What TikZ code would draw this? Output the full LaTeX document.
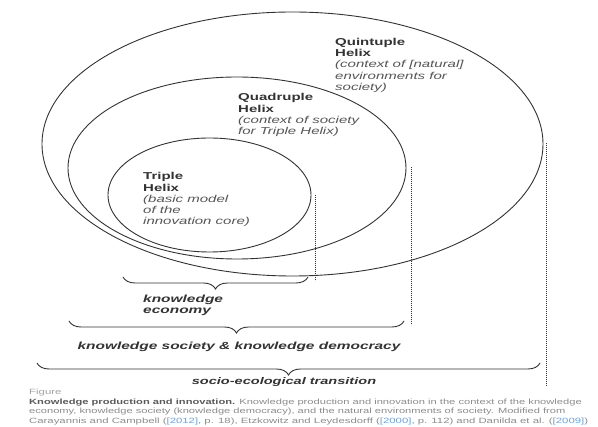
\documentclass[tikz,border=0pt]{standalone}
\usepackage{fontspec}
\usetikzlibrary{shapes.geometric,decorations.pathreplacing}
\newfontfamily\lab{Liberation Sans}[FakeStretch=1.5]
\definecolor{ink}{HTML}{333333}
\definecolor{descc}{HTML}{555555}
\definecolor{capc}{HTML}{8C8C8C}
\definecolor{capb}{HTML}{5A5A5A}
\definecolor{linkc}{HTML}{6FA3D8}
\begin{document}
\begin{tikzpicture}[x=1pt,y=-1pt,
  ring/.style={ellipse, draw=ink, line width=0.9pt, inner sep=0pt, outer sep=0pt},
  guide/.style={draw=ink, line width=0.9pt, dash pattern=on 0.9pt off 1.1pt},
  brc/.style={draw=ink, line width=0.9pt, decorate, decoration={brace, mirror, amplitude=12pt}},
  title/.style={anchor=base west, inner sep=0pt, font=\lab\fontsize{10}{12}\selectfont\bfseries, text=ink},
  desc/.style={anchor=base west, inner sep=0pt, font=\lab\fontsize{10}{12}\selectfont\itshape, text=descc},
  blab/.style={anchor=base, inner sep=0pt, font=\lab\fontsize{10.3}{12}\selectfont\bfseries\itshape, text=ink},
  caption/.style={anchor=base west, inner sep=0pt, font=\lab\fontsize{7.6}{9}\selectfont, text=capc}
]
\useasboundingbox[fill=white] (0,0) rectangle (598,427);

% ellipses
\node[ring, minimum width=501pt, minimum height=264pt] (quint) at (292.5,144) {};
\node[ring, minimum width=338pt, minimum height=182pt] (quad) at (237,168) {};
\node[ring, minimum width=203pt, minimum height=114pt] (triple) at (209.5,195) {};

% dotted guides
\coordinate (g1a) at (315,195); \coordinate (g1b) at (315,281);
\coordinate (g2a) at (411,167); \coordinate (g2b) at (411,325);
\coordinate (g3a) at (546,143); \coordinate (g3b) at (546,386);
\draw[guide] (g1a) -- (g1b);
\draw[guide] (g2a) -- (g2b);
\draw[guide] (g3a) -- (g3b);

% labels in ellipses
\node[title] (q1) at (335,45.5) {Quintuple};
\node[title] (q2) at (335,56.7) {Helix};
\node[desc] (q3) at (335,67.9) {(context of [natural]};
\node[desc] (q4) at (335,79.1) {environments for};
\node[desc] (q5) at (335,90.3) {society)};

\node[title] (d1) at (238,101) {Quadruple};
\node[title] (d2) at (238,112.1) {Helix};
\node[desc] (d3) at (238,123.2) {(context of society};
\node[desc] (d4) at (238,134.3) {for Triple Helix)};

\node[title] (t1) at (143,180) {Triple};
\node[title] (t2) at (143,191.1) {Helix};
\node[desc] (t3) at (143,202.2) {(basic model};
\node[desc] (t4) at (143,213.3) {of the};
\node[desc] (t5) at (143,224.4) {innovation core)};

% braces
\coordinate (b1a) at (123,277); \coordinate (b1b) at (308,277);
\coordinate (b2a) at (69,321); \coordinate (b2b) at (404,321);
\coordinate (b3a) at (37,363); \coordinate (b3b) at (540,363);
\draw[brc] (b1a) -- (b1b);
\draw[brc] (b2a) -- (b2b);
\draw[brc] (b3a) -- (b3b);

\node[blab, anchor=base west] (ke1) at (143,303) {knowledge};
\node[blab, anchor=base west] (ke2) at (143,314) {economy};
\node[blab] (ks) at (239,349.5) {knowledge society \& knowledge democracy};
\node[blab, font=\lab\fontsize{9.7}{12}\selectfont\bfseries\itshape] (se) at (284,384.5) {socio-ecological transition};

% caption
\node[caption, text=capc!80] (c0) at (29,394.5) {Figure};
\node[caption] (c1) at (29,404.5) {\scalebox{0.977}[1]{\textcolor{capb}{\bfseries Knowledge production and innovation.} Knowledge production and innovation in the context of the knowledge}};
\node[caption] (c2) at (29,414) {\scalebox{0.975}[1]{economy, knowledge society (knowledge democracy), and the natural environments of society. Modified from}};
\node[caption] (c3) at (29,423.5) {\scalebox{0.995}[1]{Carayannis and Campbell (\textcolor{linkc}{[2012]}, p. 18), Etzkowitz and Leydesdorff (\textcolor{linkc}{[2000]}, p. 112) and Danilda et al. (\textcolor{linkc}{[2009]})}};
\end{tikzpicture}
\end{document}
